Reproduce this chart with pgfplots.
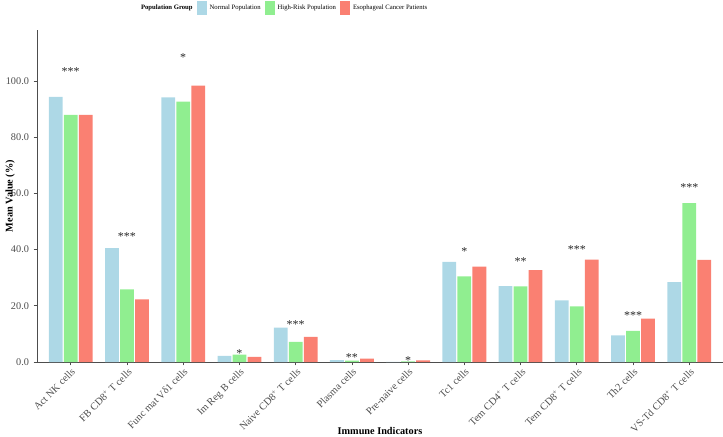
\documentclass[border=0pt]{standalone}
\usepackage{pgfplots}
\pgfplotsset{compat=1.18}
\usepackage{pgfplotstable}
\usepackage{fontspec}
\setmainfont{Liberation Serif}

\definecolor{grpNormal}{HTML}{ADD8E6}
\definecolor{grpHigh}{HTML}{90EE90}
\definecolor{grpCancer}{HTML}{FA8072}
\definecolor{axisgray}{HTML}{4D4D4D}

% mean values (%) per immune indicator and population group
\pgfplotstableread{
idx normal high cancer
0  94.3 87.9 87.9
1  40.5 25.8 22.3
2  94.1 92.6 98.3
3   2.2  2.6  1.8
4  12.2  7.2  8.9
5   0.7  0.5  1.2
6   0.05 0.2  0.6
7  35.6 30.5 33.9
8  27.0 26.9 32.7
9  21.9 19.8 36.4
10  9.5 11.1 15.4
11 28.4 56.5 36.3
}\meanvalues

% significance marks
\pgfplotstableread{
idx y sig
0  104.2 ***
1  45.2  ***
2  109.0 *
3  3.6   *
4  14.0  ***
5  2.2   **
6  1.2   *
7  39.9  *
8  36.5  **
9  40.7  ***
10 17.3  ***
11 62.8  ***
}\signif

\pgfplotsset{
  grpbar/.style={ybar, bar width=0.245, draw=none,
    legend image code/.code={\fill[##1] (0pt,-5.25pt) rectangle (7.5pt,5.25pt);}},
}

\begin{document}
\begin{tikzpicture}
\begin{axis}[
  at={(0pt,0pt)}, anchor=south west,
  scale only axis, width=514.5pt, height=249pt,
  xmin=-0.6, xmax=11.6, ymin=0, ymax=118.1,
  clip=false,
  axis x line*=bottom, axis y line*=left,
  axis line style={-, draw=axisgray, line width=0.7pt},
  xtick={0,...,11},
  xticklabels={Act NK cells, FB CD8\textsuperscript{+} T cells, Func mat Vδ1 cells,
    Im Reg B cells, Naive CD8\textsuperscript{+} T cells, Plasma cells, Pre-naive cells,
    Tc1 cells, Tem CD4\textsuperscript{+} T cells, Tem CD8\textsuperscript{+} T cells,
    Th2 cells, VS-Td CD8\textsuperscript{+} T cells},
  ytick={0,20,...,100},
  yticklabel style={/pgf/number format/.cd, fixed, fixed zerofill, precision=1, assume math mode=true},
  tick label style={font=\fontsize{7.7}{9}\selectfont, text=axisgray},
  xticklabel style={rotate=45, anchor=north east, inner sep=1pt},
  tick align=outside, major tick length=2.5pt,
  tick style={axisgray, line width=0.5pt},
  xlabel={Immune Indicators}, ylabel={Mean Value (\%)},
  every axis x label/.style={at={(axis description cs:0.5,-0.208)}, anchor=center,
    font=\fontsize{7.7}{9}\selectfont\bfseries},
  every axis y label/.style={at={(axis description cs:-0.039,0.5)}, rotate=90, anchor=center,
    font=\fontsize{7.7}{9}\selectfont\bfseries},
  legend columns=-1,
  legend style={at={(axis description cs:0.1472,1.0663)}, anchor=west,
    draw=none, fill=none, inner sep=0pt, outer sep=0pt,
    font=\fontsize{5}{6}\selectfont,
    nodes={inner sep=0.8pt},
    /tikz/every odd column/.append style={column sep=1.5pt},
    /tikz/every even column/.append style={column sep=2.2pt}},
]
\addlegendimage{empty legend}
\addlegendentry{\textbf{Population Group}}

\addplot[grpbar, fill=grpNormal, bar shift=-0.267] table[x=idx, y=normal]{\meanvalues};
\addlegendentry{Normal Population}
\addplot[grpbar, fill=grpHigh, bar shift=0] table[x=idx, y=high]{\meanvalues};
\addlegendentry{High-Risk Population}
\addplot[grpbar, fill=grpCancer, bar shift=0.267] table[x=idx, y=cancer]{\meanvalues};
\addlegendentry{Esophageal Cancer Patients}

\addplot[forget plot, draw=none, mark=none, nodes near coords, point meta=explicit symbolic,
  nodes near coords style={anchor=center, font=\fontsize{9}{9}\selectfont, text=black!85, yshift=-1.5pt}]
  table[x=idx, y=y, meta=sig]{\signif};
\end{axis}
\pgfresetboundingbox
\path[use as bounding box] (-27.75pt,-55.5pt) rectangle (514.5pt,271.5pt);
\end{tikzpicture}
\end{document}
